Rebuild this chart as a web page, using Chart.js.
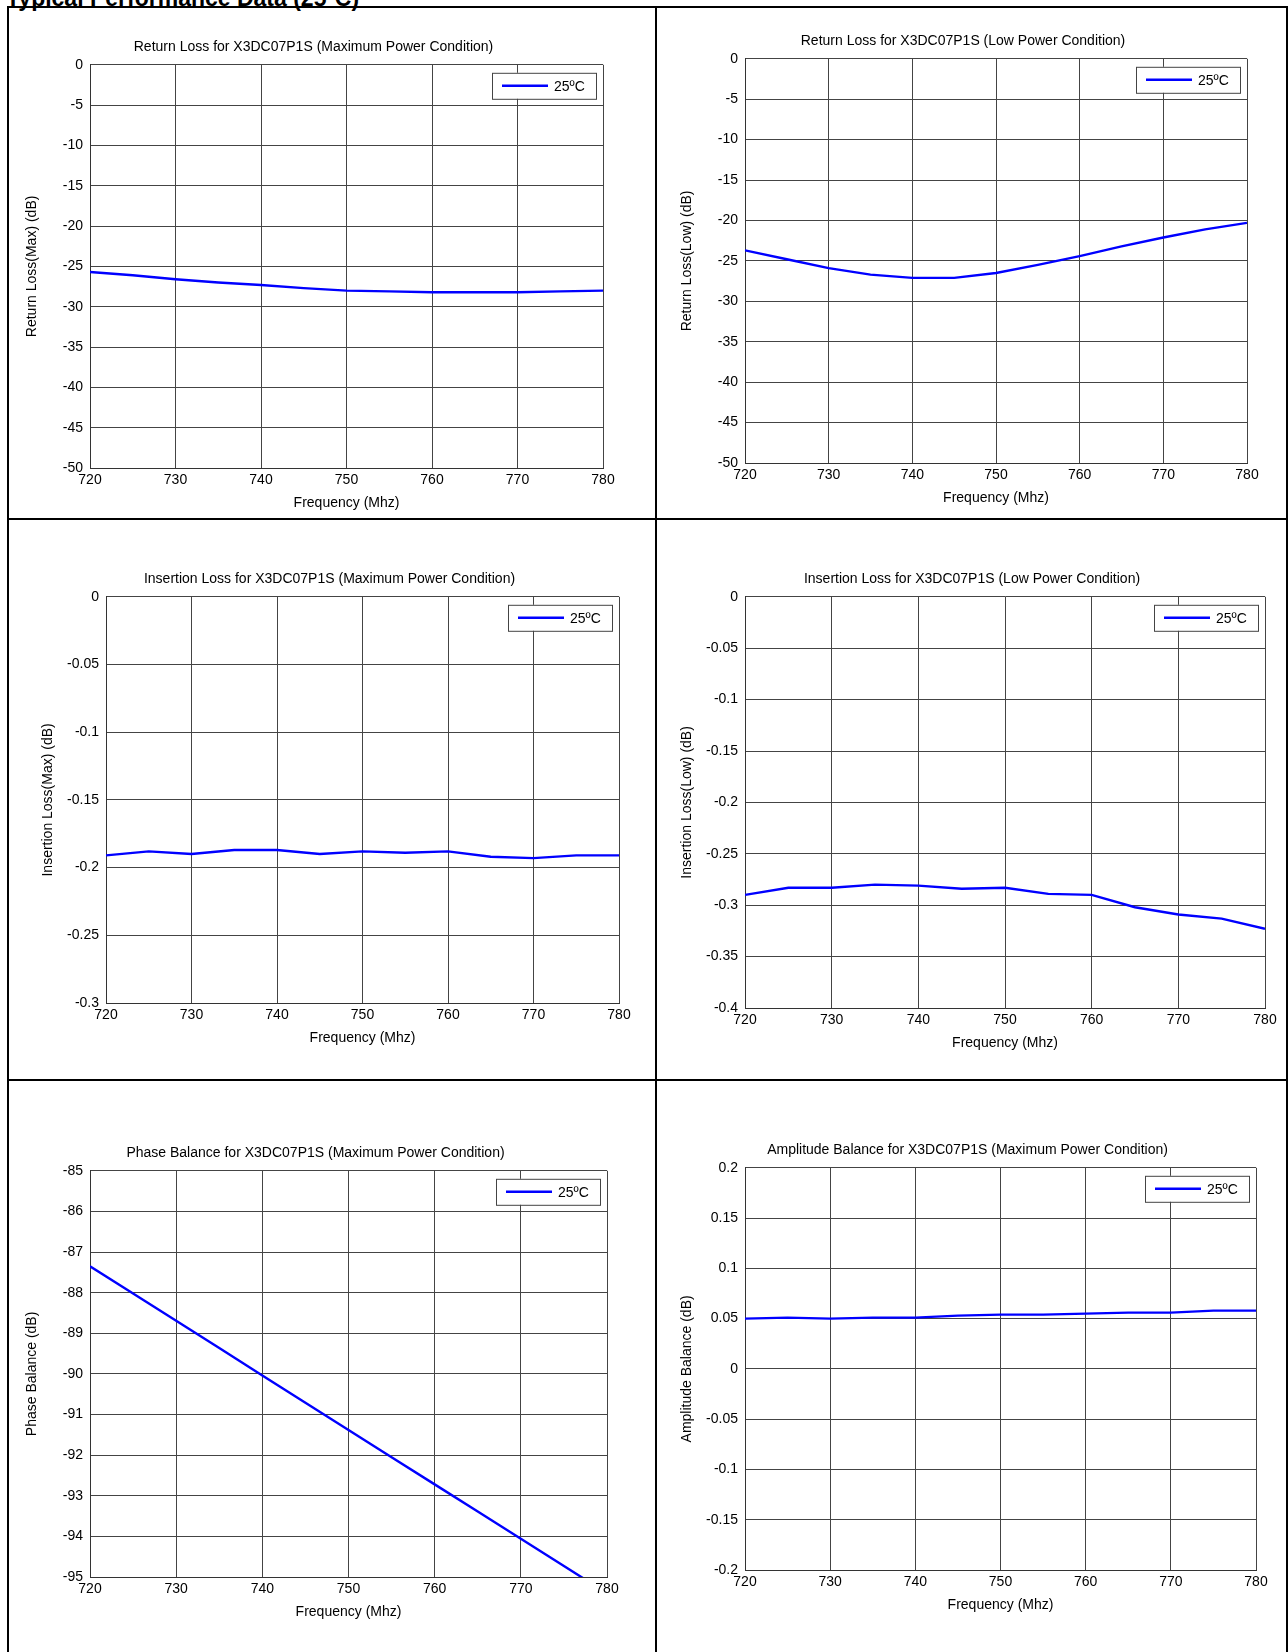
<!DOCTYPE html>
<html><head><meta charset="utf-8">
<script src="https://cdn.jsdelivr.net/npm/chart.js@4"></script>
<style>
body{margin:0;background:#fff;width:1288px;height:1652px;overflow:hidden;font-family:"Liberation Sans",Arial,sans-serif;position:relative}
.hdr{position:absolute;left:6px;top:-15px;font-weight:bold;font-size:23px;}
.line{position:absolute;background:#000}
.cv{position:absolute}
</style></head><body>
<div class="hdr">Typical Performance Data (25ºC)</div>
<div class="line" style="left:7px;top:6px;width:1281px;height:2px"></div>
<div class="line" style="left:7px;top:6px;width:2px;height:1646px"></div>
<div class="line" style="left:655px;top:6px;width:2px;height:1646px"></div>
<div class="line" style="left:1286px;top:6px;width:2px;height:1646px"></div>
<div class="line" style="left:7px;top:518px;width:1281px;height:2px"></div>
<div class="line" style="left:7px;top:1079px;width:1281px;height:2px"></div>
<canvas id="c1" class="cv"></canvas><canvas id="c2" class="cv"></canvas>
<canvas id="c3" class="cv"></canvas><canvas id="c4" class="cv"></canvas>
<canvas id="c5" class="cv"></canvas><canvas id="c6" class="cv"></canvas>
<script>
var freq = [720,725,730,735,740,745,750,755,760,765,770,775,780];
var returnLossMax = [-25.7,-26.1,-26.6,-27.0,-27.3,-27.7,-28.0,-28.1,-28.2,-28.2,-28.2,-28.1,-28.0];
var returnLossLow = [-23.7,-24.8,-25.9,-26.7,-27.1,-27.1,-26.5,-25.5,-24.4,-23.2,-22.1,-21.1,-20.3];
var insertionLossMax = [-0.191,-0.188,-0.190,-0.187,-0.187,-0.190,-0.188,-0.189,-0.188,-0.192,-0.193,-0.191,-0.191];
var insertionLossLow = [-0.290,-0.283,-0.283,-0.280,-0.281,-0.284,-0.283,-0.289,-0.290,-0.302,-0.309,-0.313,-0.323];
var phaseBalance = [-87.35,-88.02,-88.69,-89.36,-90.04,-90.71,-91.38,-92.05,-92.72,-93.39,-94.06,-94.73,-95.4];
var amplitudeBalance = [0.050,0.051,0.050,0.051,0.051,0.053,0.054,0.054,0.055,0.056,0.056,0.058,0.058];
var legendLabel = '25ºC';

var K = 1288 / 1223;
var FONT = '"Liberation Sans", Arial, sans-serif';
var FS = 14;
var YW = 66, XH = 44, TH = 32, RP = 16;

var legendBox = {
  id: 'legendBox',
  afterDraw: function (chart) {
    var a = chart.chartArea, c = chart.ctx;
    var w = 104, h = 26, x = a.right - w - 7, y = a.top + 8;
    c.save();
    c.fillStyle = '#fff'; c.fillRect(x, y, w, h);
    c.strokeStyle = '#444'; c.lineWidth = 1; c.strokeRect(x + 0.5, y + 0.5, w, h);
    c.strokeStyle = '#0000ff'; c.lineWidth = 2.5;
    c.beginPath(); c.moveTo(x + 10, y + h / 2); c.lineTo(x + 56, y + h / 2); c.stroke();
    c.fillStyle = '#000'; c.font = FS + 'px ' + FONT; c.textBaseline = 'middle';
    c.fillText(legendLabel, x + 62, y + h / 2 + 1);
    c.restore();
  }
};

function makeChart(id, box, title, yTitle, values, min, max, step) {
  var el = document.getElementById(id);
  var L = Math.round(box[0] * K), R = Math.round(box[1] * K), T = Math.round(box[2] * K), B = Math.round(box[3] * K);
  var w = R - L + YW + RP, h = B - T + TH + XH;
  el.style.left = (L - YW) + 'px';
  el.style.top = (T - TH) + 'px';
  el.style.width = w + 'px'; el.style.height = h + 'px';
  el.width = w; el.height = h;
  var grid = { color: '#444', borderDash: [1, 3], lineWidth: 1, drawTicks: false };
  new Chart(el, {
    type: 'line',
    data: { labels: freq, datasets: [{ data: freq.map(function (f, i) { return { x: f, y: values[i] }; }),
      borderColor: '#0000ff', borderWidth: 2.4, pointRadius: 0, tension: 0 }] },
    plugins: [legendBox],
    options: {
      responsive: false, animation: false, devicePixelRatio: 1,
      layout: { padding: { right: RP, top: 0, left: 0, bottom: 0 } },
      plugins: {
        legend: { display: false }, tooltip: { enabled: false },
        title: { display: true, text: title, color: '#000', font: { family: FONT, size: FS, weight: 'normal' }, padding: { top: 6, bottom: 9 } }
      },
      scales: {
        x: { type: 'linear', min: 720, max: 780, afterFit: function (s) { s.height = XH; },
          ticks: { stepSize: 10, color: '#000', font: { family: FONT, size: FS }, padding: 4, maxRotation: 0 },
          grid: grid, border: { color: '#333', width: 1 },
          title: { display: true, text: 'Frequency (Mhz)', color: '#000', font: { family: FONT, size: FS }, padding: 0 } },
        y: { min: min, max: max, afterFit: function (s) { s.width = YW; },
          ticks: { stepSize: step, color: '#000', font: { family: FONT, size: FS }, padding: 7,
            callback: function (v) { return String(Math.round(v * 1000) / 1000); } },
          grid: grid, border: { color: '#333', width: 1 },
          title: { display: true, text: yTitle, color: '#000', font: { family: FONT, size: FS }, padding: 0 } }
      }
    }
  });
}

makeChart('c1', [85, 573, 62, 444], 'Return Loss for X3DC07P1S (Maximum Power Condition)', 'Return Loss(Max) (dB)', returnLossMax, -50, 0, 5);
makeChart('c2', [707, 1184, 56, 440], 'Return Loss for X3DC07P1S (Low Power Condition)', 'Return Loss(Low) (dB)', returnLossLow, -50, 0, 5);
makeChart('c3', [101, 588, 567, 952], 'Insertion Loss for X3DC07P1S (Maximum Power Condition)', 'Insertion Loss(Max) (dB)', insertionLossMax, -0.3, 0, 0.05);
makeChart('c4', [707, 1201, 567, 957], 'Insertion Loss for X3DC07P1S (Low Power Condition)', 'Insertion Loss(Low) (dB)', insertionLossLow, -0.4, 0, 0.05);
makeChart('c5', [85, 576, 1112, 1497], 'Phase Balance for X3DC07P1S (Maximum Power Condition)', 'Phase Balance (dB)', phaseBalance, -95, -85, 1);
makeChart('c6', [707, 1193, 1109, 1491], 'Amplitude Balance for X3DC07P1S (Maximum Power Condition)', 'Amplitude Balance (dB)', amplitudeBalance, -0.2, 0.2, 0.05);
</script>
</body></html>
